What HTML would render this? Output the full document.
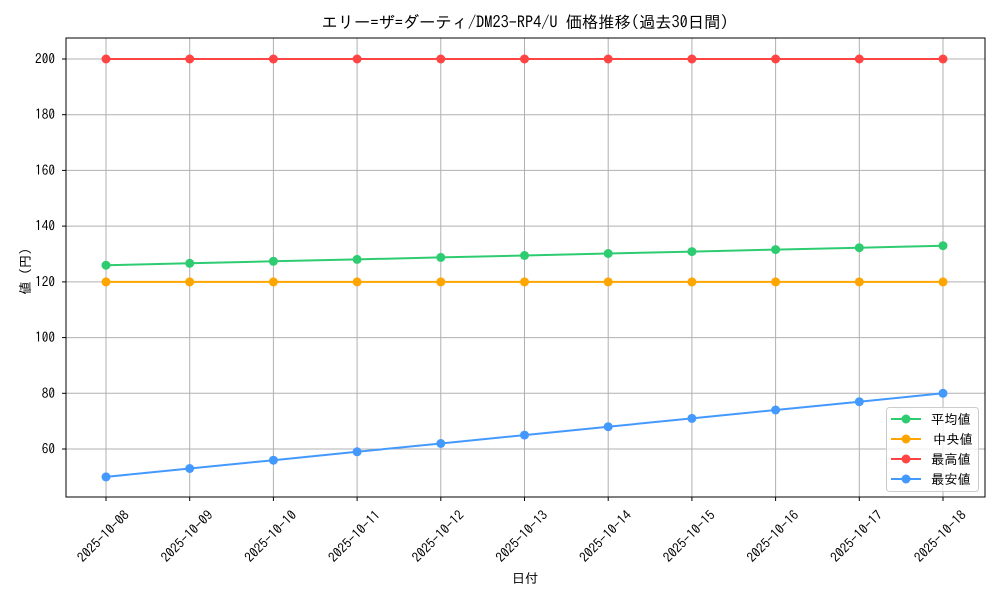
<!DOCTYPE html>
<html><head><meta charset="utf-8"><style>
body{margin:0;background:#fff}
text{font-family:"IPAGothic","Liberation Sans","Noto Sans CJK JP",sans-serif;fill:#000}
</style></head><body>
<svg width="1000" height="600" xmlns="http://www.w3.org/2000/svg">
<rect width="1000" height="600" fill="#fff"/>
<g stroke="#b0b0b0" stroke-width="1">
<line x1="106" y1="38" x2="106" y2="497"/><line x1="189.7" y1="38" x2="189.7" y2="497"/><line x1="273.4" y1="38" x2="273.4" y2="497"/><line x1="357.1" y1="38" x2="357.1" y2="497"/><line x1="440.8" y1="38" x2="440.8" y2="497"/><line x1="524.5" y1="38" x2="524.5" y2="497"/><line x1="608.2" y1="38" x2="608.2" y2="497"/><line x1="691.9" y1="38" x2="691.9" y2="497"/><line x1="775.6" y1="38" x2="775.6" y2="497"/><line x1="859.3" y1="38" x2="859.3" y2="497"/><line x1="943" y1="38" x2="943" y2="497"/>
<line x1="66" y1="59" x2="985" y2="59"/><line x1="66" y1="114.7" x2="985" y2="114.7"/><line x1="66" y1="170.4" x2="985" y2="170.4"/><line x1="66" y1="226.1" x2="985" y2="226.1"/><line x1="66" y1="281.9" x2="985" y2="281.9"/><line x1="66" y1="337.6" x2="985" y2="337.6"/><line x1="66" y1="393.3" x2="985" y2="393.3"/><line x1="66" y1="449" x2="985" y2="449"/>
</g>
<g stroke="#000" stroke-width="1">
<line x1="106" y1="497" x2="106" y2="501"/><line x1="189.7" y1="497" x2="189.7" y2="501"/><line x1="273.4" y1="497" x2="273.4" y2="501"/><line x1="357.1" y1="497" x2="357.1" y2="501"/><line x1="440.8" y1="497" x2="440.8" y2="501"/><line x1="524.5" y1="497" x2="524.5" y2="501"/><line x1="608.2" y1="497" x2="608.2" y2="501"/><line x1="691.9" y1="497" x2="691.9" y2="501"/><line x1="775.6" y1="497" x2="775.6" y2="501"/><line x1="859.3" y1="497" x2="859.3" y2="501"/><line x1="943" y1="497" x2="943" y2="501"/>
<line x1="62" y1="59" x2="66" y2="59"/><line x1="62" y1="114.7" x2="66" y2="114.7"/><line x1="62" y1="170.4" x2="66" y2="170.4"/><line x1="62" y1="226.1" x2="66" y2="226.1"/><line x1="62" y1="281.9" x2="66" y2="281.9"/><line x1="62" y1="337.6" x2="66" y2="337.6"/><line x1="62" y1="393.3" x2="66" y2="393.3"/><line x1="62" y1="449" x2="66" y2="449"/>
</g>
<g fill="none" stroke-width="2">
<polyline stroke="#ff4444" points="106,59 943,59"/>
<polyline stroke="#ffa500" points="106,281.9 943,281.9"/>
<polyline stroke="#2ecc71" points="106,265.2 189.7,263.3 273.4,261.3 357.1,259.4 440.8,257.4 524.5,255.5 608.2,253.5 691.9,251.6 775.6,249.6 859.3,247.7 943,245.7"/>
<polyline stroke="#4499ff" points="106,476.9 189.7,468.5 273.4,460.2 357.1,451.8 440.8,443.5 524.5,435.1 608.2,426.7 691.9,418.4 775.6,410 859.3,401.7 943,393.3"/>
</g>
<g fill="#ff4444"><circle cx="106" cy="59" r="4.5"/><circle cx="189.7" cy="59" r="4.5"/><circle cx="273.4" cy="59" r="4.5"/><circle cx="357.1" cy="59" r="4.5"/><circle cx="440.8" cy="59" r="4.5"/><circle cx="524.5" cy="59" r="4.5"/><circle cx="608.2" cy="59" r="4.5"/><circle cx="691.9" cy="59" r="4.5"/><circle cx="775.6" cy="59" r="4.5"/><circle cx="859.3" cy="59" r="4.5"/><circle cx="943" cy="59" r="4.5"/></g>
<g fill="#ffa500"><circle cx="106" cy="281.9" r="4.5"/><circle cx="189.7" cy="281.9" r="4.5"/><circle cx="273.4" cy="281.9" r="4.5"/><circle cx="357.1" cy="281.9" r="4.5"/><circle cx="440.8" cy="281.9" r="4.5"/><circle cx="524.5" cy="281.9" r="4.5"/><circle cx="608.2" cy="281.9" r="4.5"/><circle cx="691.9" cy="281.9" r="4.5"/><circle cx="775.6" cy="281.9" r="4.5"/><circle cx="859.3" cy="281.9" r="4.5"/><circle cx="943" cy="281.9" r="4.5"/></g>
<g fill="#2ecc71"><circle cx="106" cy="265.2" r="4.5"/><circle cx="189.7" cy="263.3" r="4.5"/><circle cx="273.4" cy="261.3" r="4.5"/><circle cx="357.1" cy="259.4" r="4.5"/><circle cx="440.8" cy="257.4" r="4.5"/><circle cx="524.5" cy="255.5" r="4.5"/><circle cx="608.2" cy="253.5" r="4.5"/><circle cx="691.9" cy="251.6" r="4.5"/><circle cx="775.6" cy="249.6" r="4.5"/><circle cx="859.3" cy="247.7" r="4.5"/><circle cx="943" cy="245.7" r="4.5"/></g>
<g fill="#4499ff"><circle cx="106" cy="476.9" r="4.5"/><circle cx="189.7" cy="468.5" r="4.5"/><circle cx="273.4" cy="460.2" r="4.5"/><circle cx="357.1" cy="451.8" r="4.5"/><circle cx="440.8" cy="443.5" r="4.5"/><circle cx="524.5" cy="435.1" r="4.5"/><circle cx="608.2" cy="426.7" r="4.5"/><circle cx="691.9" cy="418.4" r="4.5"/><circle cx="775.6" cy="410" r="4.5"/><circle cx="859.3" cy="401.7" r="4.5"/><circle cx="943" cy="393.3" r="4.5"/></g>
<rect x="66" y="38" width="919" height="459" fill="none" stroke="#000" stroke-width="1"/>
<g font-size="13.3" text-anchor="end">
<text x="55" y="63.5">200</text><text x="55" y="119.2">180</text><text x="55" y="174.9">160</text><text x="55" y="230.6">140</text><text x="55" y="286.4">120</text><text x="55" y="342.1">100</text><text x="55" y="397.8">80</text><text x="55" y="453.5">60</text>
</g>
<g font-size="13.3" text-anchor="end">
<text transform="translate(130,516) rotate(-45)">2025-10-08</text>
<text transform="translate(213.7,516) rotate(-45)">2025-10-09</text>
<text transform="translate(297.4,516) rotate(-45)">2025-10-10</text>
<text transform="translate(381.1,516) rotate(-45)">2025-10-11</text>
<text transform="translate(464.8,516) rotate(-45)">2025-10-12</text>
<text transform="translate(548.5,516) rotate(-45)">2025-10-13</text>
<text transform="translate(632.2,516) rotate(-45)">2025-10-14</text>
<text transform="translate(715.9,516) rotate(-45)">2025-10-15</text>
<text transform="translate(799.6,516) rotate(-45)">2025-10-16</text>
<text transform="translate(883.3,516) rotate(-45)">2025-10-17</text>
<text transform="translate(967,516) rotate(-45)">2025-10-18</text>
</g>
<text x="525" y="583" font-size="13.3" text-anchor="middle">日付</text>
<text transform="translate(30,268) rotate(-90)" font-size="13.3" text-anchor="middle">値（円）</text>
<text x="525" y="28" font-size="16.3" text-anchor="middle">エリー=ザ=ダーティ/DM23-RP4/U 価格推移(過去30日間)</text>
<rect x="886.5" y="407.5" width="92" height="84" rx="3" fill="#fff" fill-opacity="0.8" stroke="#ccc"/>
<g stroke-width="2">
<line x1="891" y1="419" x2="921" y2="419" stroke="#2ecc71"/><circle cx="906" cy="419" r="4.5" fill="#2ecc71"/>
<line x1="891" y1="439" x2="921" y2="439" stroke="#ffa500"/><circle cx="906" cy="439" r="4.5" fill="#ffa500"/>
<line x1="891" y1="459" x2="921" y2="459" stroke="#ff4444"/><circle cx="906" cy="459" r="4.5" fill="#ff4444"/>
<line x1="891" y1="479" x2="921" y2="479" stroke="#4499ff"/><circle cx="906" cy="479" r="4.5" fill="#4499ff"/>
</g>
<g font-size="13.3"><text x="931" y="424">平均値</text><text x="933" y="444">中央値</text><text x="931" y="464">最高値</text><text x="931" y="484">最安値</text></g>
</svg>
</body></html>
